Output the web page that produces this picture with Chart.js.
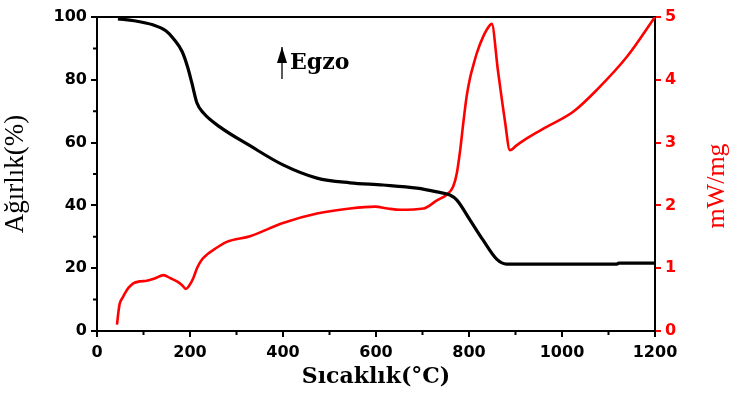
<!DOCTYPE html>
<html lang="tr">
<head>
    <meta charset="UTF-8">
    <title>TG / DSC</title>
    <style>
        html, body { margin: 0; padding: 0; background: #fff; }
        #wrap { width: 732px; height: 398px; }
    </style>
</head>
<body>
    <div id="wrap"><canvas id="tgChart" width="732" height="398"></canvas></div>

    <script src="https://cdn.jsdelivr.net/npm/chart.js@4.4.0/dist/chart.umd.min.js"></script>
    <script>
    // TG curve (Ağırlık %)
    const tgTemp = [45, 80, 120, 148, 165, 183, 195, 204, 215, 229, 264, 329, 400, 473, 544, 615, 688, 731, 759, 774, 802, 830, 860, 881, 950, 1050, 1118, 1122, 1200];
    const tgWeight = [99.4, 98.8, 97.5, 95.6, 93, 89, 84, 79, 72.6, 69.4, 65, 59, 52.9, 48.7, 47.2, 46.5, 45.5, 44.3, 43.3, 41.7, 35.4, 29, 22.8, 21.3, 21.3, 21.3, 21.3, 21.6, 21.6];

    // DSC curve (mW/mg)
    const dscTemp = [43, 46, 49, 55, 60, 68, 78, 92, 107, 125, 143, 158, 172, 183, 191, 198, 207, 215, 225, 237, 250, 279, 329, 400, 473, 544, 598, 625, 652, 702, 731, 752, 766, 774, 781, 788, 795, 802, 810, 817, 830, 845, 849, 862, 877, 888, 903, 925, 967, 1024, 1075, 1140, 1200];
    const dscValue = [0.1, 0.3, 0.44, 0.53, 0.6, 0.69, 0.76, 0.79, 0.8, 0.84, 0.89, 0.84, 0.79, 0.73, 0.67, 0.72, 0.84, 1.0, 1.13, 1.22, 1.29, 1.42, 1.51, 1.72, 1.87, 1.95, 1.98, 1.95, 1.93, 1.95, 2.08, 2.17, 2.3, 2.52, 2.88, 3.33, 3.74, 4.02, 4.25, 4.43, 4.68, 4.87, 4.89, 4.16, 3.36, 2.88, 2.96, 3.07, 3.25, 3.49, 3.84, 4.37, 5.0];

    const xTicks = [0, 200, 400, 600, 800, 1000, 1200];
    const leftTicks = [0, 20, 40, 60, 80, 100];
    const rightTicks = [0, 1, 2, 3, 4, 5];

    const tickFont = { family: 'DejaVu Sans', size: 16, weight: 'bold' };

    function toPoints(xs, ys) {
        return xs.map((x, i) => ({ x: x, y: ys[i] }));
    }

    // minor ticks, right title and the "Egzo" note
    const extras = {
        id: 'extras',
        afterDraw(chart) {
            const ctx = chart.ctx;
            const x = chart.scales.x, y = chart.scales.y;
            const area = chart.chartArea;
            ctx.save();
            ctx.strokeStyle = '#000';
            ctx.lineWidth = 2;
            ctx.beginPath();
            for (let v = 100; v < 1200; v += 200) {
                const px = x.getPixelForValue(v);
                ctx.moveTo(px, area.bottom);
                ctx.lineTo(px, area.bottom + 4);
            }
            for (let v = 10; v < 100; v += 20) {
                const py = y.getPixelForValue(v);
                ctx.moveTo(area.left, py);
                ctx.lineTo(area.left - 4, py);
            }
            ctx.stroke();

            // right axis title, reading bottom to top
            ctx.save();
            ctx.translate(717, (area.top + area.bottom) / 2 + 12);
            ctx.rotate(-Math.PI / 2);
            ctx.fillStyle = '#ff0000';
            ctx.font = '26px "Liberation Serif"';
            ctx.textAlign = 'center';
            ctx.textBaseline = 'middle';
            ctx.fillText('mW/mg', 0, 0);
            ctx.restore();

            // arrow
            const ax = x.getPixelForValue(400) - 1;
            const ay = y.getPixelForValue(85);
            ctx.lineWidth = 1.3;
            ctx.beginPath();
            ctx.moveTo(ax, ay - 17);
            ctx.lineTo(ax, ay + 15);
            ctx.stroke();
            ctx.fillStyle = '#000';
            ctx.beginPath();
            ctx.moveTo(ax, ay - 17);
            ctx.lineTo(ax - 5, ay - 1);
            ctx.lineTo(ax + 5, ay - 1);
            ctx.closePath();
            ctx.fill();
            ctx.font = 'bold 22px "DejaVu Serif"';
            ctx.textBaseline = 'middle';
            ctx.fillText('Egzo', ax + 8, ay - 1);
            ctx.restore();
        }
    };

    const ctx = document.getElementById('tgChart').getContext('2d');
    new Chart(ctx, {
        type: 'scatter',
        data: {
            datasets: [{
                label: 'Ağırlık',
                data: toPoints(tgTemp, tgWeight),
                showLine: true,
                borderColor: '#000',
                borderWidth: 3.2,
                pointRadius: 0,
                cubicInterpolationMode: 'monotone',
                yAxisID: 'y'
            }, {
                label: 'DSC',
                data: toPoints(dscTemp, dscValue),
                showLine: true,
                borderColor: '#ff0000',
                borderWidth: 2.6,
                pointRadius: 0,
                cubicInterpolationMode: 'monotone',
                yAxisID: 'y1'
            }]
        },
        options: {
            responsive: false,
            animation: false,
            layout: { padding: { top: 17, left: 0, right: 0, bottom: 0 } },
            plugins: {
                legend: { display: false },
                tooltip: { enabled: false }
            },
            scales: {
                x: {
                    type: 'linear',
                    min: 0, max: 1200,
                    afterBuildTicks: s => { s.ticks = xTicks.map(v => ({ value: v })); },
                    afterFit: s => { s.height = 67; },
                    border: { color: '#000', width: 2 },
                    grid: { drawOnChartArea: false, color: '#000', lineWidth: 2, tickLength: 6 },
                    ticks: { color: '#000', font: tickFont, padding: 6, maxRotation: 0, callback: v => String(v) },
                    title: {
                        display: true,
                        text: 'Sıcaklık(°C)',
                        color: '#000',
                        font: { family: 'DejaVu Serif', size: 22, weight: 'bold' },
                        padding: { top: 0, bottom: 8 }
                    }
                },
                y: {
                    position: 'left',
                    min: 0, max: 100,
                    afterBuildTicks: s => { s.ticks = leftTicks.map(v => ({ value: v })); },
                    afterFit: s => { s.width = 97; },
                    border: { color: '#000', width: 2 },
                    grid: { drawOnChartArea: false, color: '#000', lineWidth: 2, tickLength: 6 },
                    ticks: { color: '#000', font: tickFont, padding: 4, callback: v => String(v) },
                    title: {
                        display: true,
                        text: 'Ağırlık(%)',
                        color: '#000',
                        font: { family: 'Liberation Serif', size: 27 },
                        padding: { top: 0, bottom: 2 }
                    }
                },
                y1: {
                    position: 'right',
                    min: 0, max: 5,
                    afterBuildTicks: s => { s.ticks = rightTicks.map(v => ({ value: v })); },
                    afterFit: s => { s.width = 77; },
                    border: { color: '#000', width: 2 },
                    grid: { drawOnChartArea: false, color: '#ff0000', lineWidth: 2, tickLength: 6 },
                    ticks: { color: '#ff0000', font: tickFont, padding: 4, callback: v => String(v) }
                },
                top: {
                    position: 'top',
                    type: 'linear',
                    min: 0, max: 1200,
                    display: true,
                    afterFit: s => { s.height = 0; },
                    border: { color: '#000', width: 2 },
                    grid: { display: false },
                    ticks: { display: false }
                }
            }
        },
        plugins: [extras]
    });
    </script>
</body>
</html>
